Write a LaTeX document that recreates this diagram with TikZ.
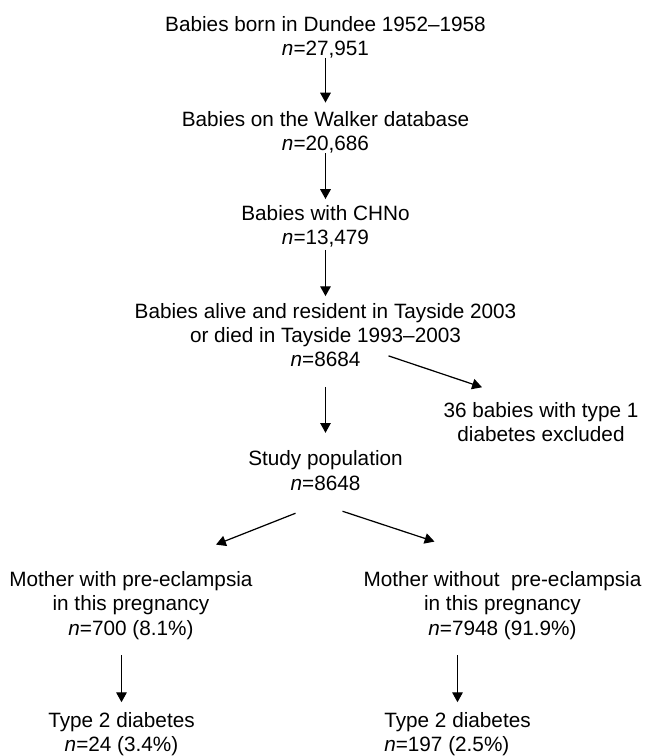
\documentclass[tikz,border=0pt]{standalone}
\usepackage{fontspec}
\setmainfont{Liberation Sans}
\usetikzlibrary{arrows.meta,positioning}

\begin{document}
\begin{tikzpicture}[font=\fontsize{11.8}{13.8}\selectfont,
    >={Triangle[length=5.6pt,width=6pt]},line width=0.7pt,
    box/.style={align=center,inner sep=0pt,outer sep=0pt}]
  \useasboundingbox (0,0) rectangle (12.92,-15.12);
  \node[box] (born)    at (6.51,-0.74)  {Babies born in Dundee 1952--1958\\\textit{n}=27,951};
  \node[box] (walker)  at (6.51,-2.65)  {Babies on the Walker database\\\textit{n}=20,686};
  \node[box] (chno)    at (6.51,-4.52)  {Babies with CHNo\\\textit{n}=13,479};
  \node[box] (alive)   at (6.51,-6.70)  {Babies alive and resident in Tayside 2003\\or died in Tayside 1993--2003\\\textit{n}=8684};
  \node[box] (excl)    at (10.82,-8.44) {36 babies with type 1\\diabetes excluded};
  \node[box] (study)   at (6.51,-9.41)  {Study population\\\textit{n}=8648};
  \node[box] (with)    at (2.62,-12.11) {Mother with pre-eclampsia\\in this pregnancy\\\textit{n}=700 (8.1\%)};
  \node[box] (without) at (10.05,-12.11) {Mother without\ \ pre-eclampsia\\in this pregnancy\\\textit{n}=7948 (91.9\%)};
  \node[box] (typeA)   at (2.43,-14.68) {Type 2 diabetes\\\textit{n}=24 (3.4\%)};
  \node[box,align=left] (typeB) at (9.15,-14.68) {Type 2 diabetes\\\textit{n}=197 (2.5\%)};
  \draw[->,shorten >=5.1pt] (born) -- (walker);
  \draw[->,shorten >=3.4pt] (walker) -- (chno);
  \draw[->,shorten <=1.7pt,shorten >=4pt] (chno) -- (alive);
  \draw[->] ([shift={(1.26,0.22)}]alive.south) -- ([shift={(-1.18,0.30)}]excl.north);
  \draw[->,shorten <=11.4pt,shorten >=10.2pt] (alive) -- (study);
  \draw[->] ([shift={(-0.6,-0.46)}]study.south) -- ([shift={(1.7,0.54)}]with.north);
  \draw[->] ([shift={(0.34,-0.42)}]study.south) -- ([shift={(-1.36,0.6)}]without.north);
  \draw[->,shorten <=9.1pt,shorten >=5.7pt] (with.south -| typeA) -- (typeA);
  \draw[->,shorten <=9.1pt,shorten >=5.7pt] (without.south -| typeB.north) -- (typeB.north);
\end{tikzpicture}
\end{document}
